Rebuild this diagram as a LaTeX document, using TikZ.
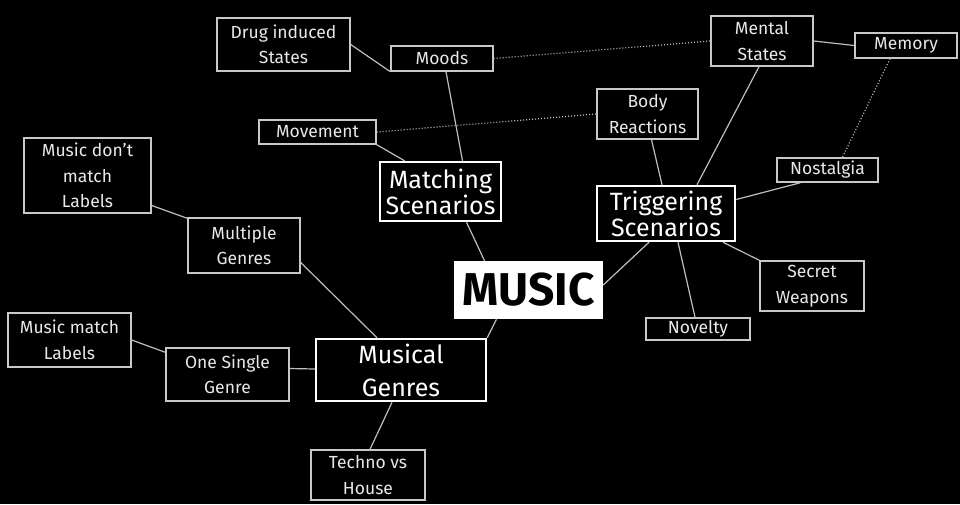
\documentclass[tikz,border=0pt]{standalone}
\usepackage{fontspec}
\setmainfont{Fira Sans}
\definecolor{boxgray}{HTML}{C8C8C8}
\definecolor{textgray}{HTML}{E8E8E8}
\definecolor{linegray}{HTML}{BEBEBE}

\begin{document}
\begin{tikzpicture}[x=1pt,y=-1pt]

        \fill[black] (0,0) rectangle (960,504);
        \useasboundingbox (0,0) rectangle (960,504);

        \begin{scope}[every node/.style={draw=boxgray,line width=1.4pt,text=textgray,align=center,inner sep=0pt,font=\fontsize{17.5}{25.5}\selectfont}]
            \node[minimum width=133,minimum height=53] (drug) at (283.5,44.5) {Drug induced\\States};
            \node[minimum width=102,minimum height=25] (moods) at (442,58.5) {Moods};
            \node[minimum width=117,minimum height=24] (movement) at (317.5,132) {Movement};
            \node[minimum width=102,minimum height=50] (mental) at (762,41) {Mental\\States};
            \node[minimum width=102,minimum height=25] (memory) at (906,45.5) {Memory};
            \node[minimum width=101,minimum height=50] (body) at (647.5,114) {Body\\Reactions};
            \node[minimum width=101,minimum height=24] (nostalgia) at (827.5,170) {Nostalgia};
            \node[minimum width=104,minimum height=50] (secret) at (812,286) {Secret\\Weapons};
            \node[minimum width=104,minimum height=22] (novelty) at (698,329) {Novelty};
            \node[minimum width=127,minimum height=75] (dontmatch) at (87.5,175.5) {Music don't\\match\\Labels};
            \node[minimum width=112,minimum height=55] (multiple) at (244,245.5) {Multiple\\Genres};
            \node[minimum width=123,minimum height=54] (matchlabels) at (69.5,340) {Music match\\Labels};
            \node[minimum width=123,minimum height=53] (single) at (227.5,374.5) {One Single\\Genre};
            \node[minimum width=114,minimum height=50] (techno) at (368,475) {Techno vs\\House};
        \end{scope}

        \begin{scope}[every node/.style={draw=white,line width=2.5pt,text=white,align=center,inner sep=0pt,font=\fontsize{25}{23}\selectfont}]
            \node[minimum width=121,minimum height=59] (matching) at (440.5,191.5) {Matching\\Scenarios};
            \node[minimum width=138,minimum height=55] (triggering) at (666,213.5) {Triggering\\Scenarios};
            \node[minimum width=170,minimum height=62,font=\fontsize{25}{33}\selectfont] (genres) at (401,370) {Musical\\Genres};
            \node[minimum width=147,minimum height=56,fill=white,text=black,font=\fontsize{46}{46}\selectfont\bfseries] (music) at (528.5,290) {MUSIC};
        \end{scope}

        \begin{scope}[every edge/.style={draw=linegray,line width=1.2pt}]
            \path (drug.east) edge (moods.south west);
            \path ([xshift=4]moods.south) edge ([xshift=22]matching.north);
            \path (movement.south east) edge ([xshift=-36]matching.north);
            \path ([xshift=26]matching.south) edge ([xshift=-44]music.north);

            \path (mental.east) edge (memory.west);
            \path ([xshift=-3]mental.south) edge ([xshift=31]triggering.north);
            \path ([xshift=4]body.south) edge ([xshift=-4]triggering.north);
            \path ([xshift=-27]nostalgia.south) edge ([yshift=14]triggering.east);
            \path ([xshift=57]triggering.south) edge (secret.north west);
            \path ([xshift=12]triggering.south) edge ([xshift=-3]novelty.north);
            \path ([xshift=-17]triggering.south) edge ([yshift=5]music.east);

            \path ([xshift=-32]music.south) edge (genres.north east);
            \path ([yshift=-17]multiple.east) edge ([xshift=-24]genres.north);
            \path ([yshift=-30]dontmatch.east) edge ([yshift=-1]multiple.north west);
            \path (matchlabels.east) edge ([yshift=-5]single.north west);
            \path ([yshift=6]single.east) edge ([yshift=1]genres.west);
            \path ([xshift=-9]genres.south) edge ([xshift=2]techno.north);

            % dotted links
            \path (moods.east) edge[dash pattern=on 1pt off 2pt] (mental.west);
            \path (movement.east) edge[dash pattern=on 1pt off 2pt] (body.west);
            \path ([xshift=-16]memory.south) edge[dash pattern=on 1pt off 2pt] ([xshift=15]nostalgia.north);
        \end{scope}

    \end{tikzpicture}
\end{document}
